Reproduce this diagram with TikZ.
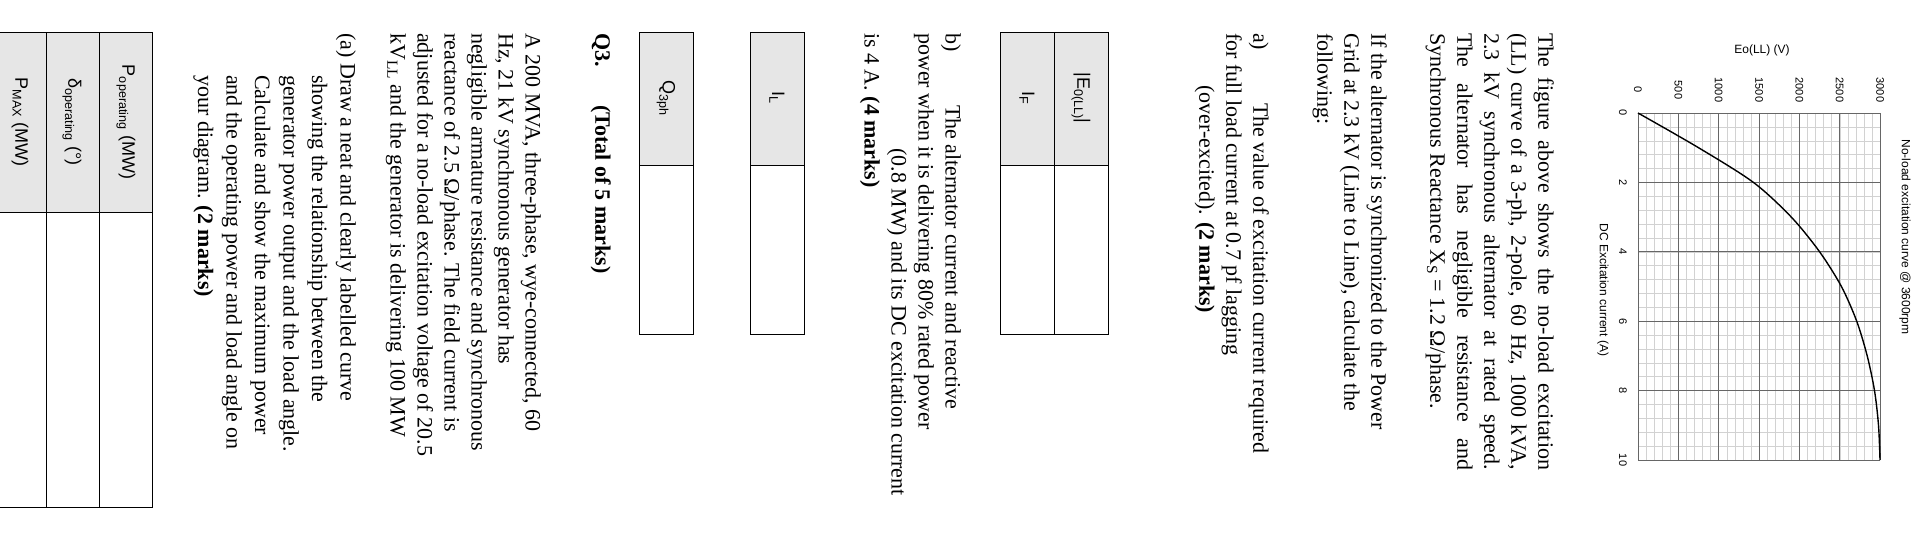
\documentclass[tikz,border=0pt]{standalone}
\usepackage{fontspec}
\setmainfont{Liberation Serif}
\newfontfamily\chartfont{Liberation Sans}
\usetikzlibrary{positioning}
\definecolor{cellgray}{HTML}{E6E6E6}
\newcommand{\jl}[1]{\hbox to 437pt{#1}}
\tikzset{
  txt/.style={inner sep=0pt, anchor=north west, align=left, font=\fontsize{22}{27}\selectfont},
  lbl/.style={inner sep=0pt, font=\chartfont\fontsize{18}{20}\selectfont},
  tick/.style={inner sep=0pt, font=\chartfont\fontsize{11}{13}\selectfont},
  box/.style={draw=black, line width=0.9pt}
}
\begin{document}
\begin{tikzpicture}[x=1pt,y=1pt]
\useasboundingbox (0,-544) rectangle (1920,0);
\begin{scope}[rotate=-90, transform shape]

% no-load curve
\foreach \i in {0,0.4,...,10} \draw[gray!35, line width=0.5pt] ({113+34.7*\i},1638) -- ({113+34.7*\i},1880);
\foreach \v in {0,100,...,3000} \draw[gray!35, line width=0.5pt] (113,{1638+0.0807*\v}) -- (460,{1638+0.0807*\v});
\foreach \i in {0,2,...,10} {
  \draw[gray!80!black, line width=0.7pt] ({113+34.7*\i},1638) -- ({113+34.7*\i},1880);
  \node[tick] (i\i) at ({113+34.7*\i},1623) {\i};
}
\foreach \v in {0,500,...,3000} {
  \draw[gray!80!black, line width=0.7pt] (113,{1638+0.0807*\v}) -- (460,{1638+0.0807*\v});
  \node[tick] (v\v) at (90,{1638+0.0807*\v}) {\v};
}
\draw[black, line width=1.4pt] plot[smooth] coordinates {
  (113,1638) (147.7,1698.5) (182.4,1753.4) (217.1,1791.3) (251.8,1819.6)
  (286.5,1841.4) (321.2,1856.7) (355.9,1867.2) (390.6,1874.5) (425.3,1878.5) (460,1880)};
\node[tick, rotate=90, font=\chartfont\fontsize{12}{14}\selectfont] (eAxis) at (50,1762) {Eo(LL) (V)};
\node[tick, font=\chartfont\fontsize{12}{14}\selectfont] (iAxis) at (290,1603) {DC Excitation current (A)};
\node[tick, font=\chartfont\fontsize{12}{14}\selectfont] (title) at (237,1905) {No-load excitation curve @ 3600rpm};

% question 2
\node[txt] (intro) at (33,1554) {\jl{The figure above shows the no-load excitation}\\
\jl{(LL) curve of a 3-ph, 2-pole, 60 Hz, 1000 kVA,}\\
\jl{2.3 kV synchronous alternator at rated speed.}\\
\jl{The alternator has negligible resistance and}\\
Synchronous Reactance X\textsubscript{S} = 1.2 Ω/phase.};
\node[txt] (grid) at (33,1387) {If the alternator is synchronized to the Power\\
Grid at 2.3 kV (Line to Line), calculate the\\
following:};
\node[txt] (partA) at (33,1269) {\makebox[70pt][l]{a)}The value of excitation current required\\
for full load current at 0.7 pf lagging\\
\hspace*{52pt}(over-excited). \textbf{(2 marks)}};

\fill[cellgray] (32,1000) rectangle (165,1108);
\draw[box] (32,1000) rectangle (334,1108);
\draw[box] (32,1054) -- (334,1054);
\draw[box] (165,1000) -- (165,1108);
\node[lbl] (eCell) at (98,1081) {|E\textsubscript{0(LL)}|};
\node[lbl] (fCell) at (98,1027) {I\textsubscript{F}};

\node[txt] (partB) at (33,961) {\makebox[72pt][l]{b)}The alternator current and reactive\\
power when it is delivering 80\% rated power\\
\hspace*{115pt}(0.8 MW) and its DC excitation current\\
is 4 A. \textbf{(4 marks)}};

\fill[cellgray] (32,750) rectangle (165,804);
\draw[box] (32,750) rectangle (334,804);
\draw[box] (165,750) -- (165,804);
\node[lbl] (lCell) at (98,777) {I\textsubscript{L}};

\fill[cellgray] (32,639) rectangle (165,693);
\draw[box] (32,639) rectangle (334,693);
\draw[box] (165,639) -- (165,693);
\node[lbl] (qCell) at (98,666) {Q\textsubscript{3ph}};

% question 3
\node[txt] (qHead) at (33,611) {\textbf{\makebox[72pt][l]{Q3.}(Total of 5 marks)}};
\node[txt] (gen) at (33,541) {A 200 MVA, three-phase, wye-connected, 60\\
Hz, 21 kV synchronous generator has\\
negligible armature resistance and synchronous\\
reactance of 2.5 Ω/phase. The field current is\\
adjusted for a no-load excitation voltage of 20.5\\
kV\textsubscript{LL} and the generator is delivering 100 MW};
\node[txt, font=\fontsize{22}{28.5}\selectfont] (partQa) at (33,356) {(a) Draw a neat and clearly labelled curve\\
\hspace*{42pt}showing the relationship between the\\
\hspace*{42pt}generator power output and the load angle.\\
\hspace*{42pt}Calculate and show the maximum power\\
\hspace*{42pt}and the operating power and load angle on\\
\hspace*{42pt}your diagram. \textbf{(2 marks)}};

\fill[cellgray] (32,-5) rectangle (212,152);
\draw[box] (32,-5) rectangle (507,152);
\draw[box] (32,99) -- (507,99);
\draw[box] (32,46) -- (507,46);
\draw[box] (212,-5) -- (212,152);
\node[lbl] (pOp) at (122,126) {P\textsubscript{operating} (MW)};
\node[lbl] (dOp) at (122,72) {δ\textsubscript{operating} (°)};
\node[lbl] (pMax) at (122,20) {P\textsubscript{MAX} (MW)};
\end{scope}
\end{tikzpicture}
\end{document}
